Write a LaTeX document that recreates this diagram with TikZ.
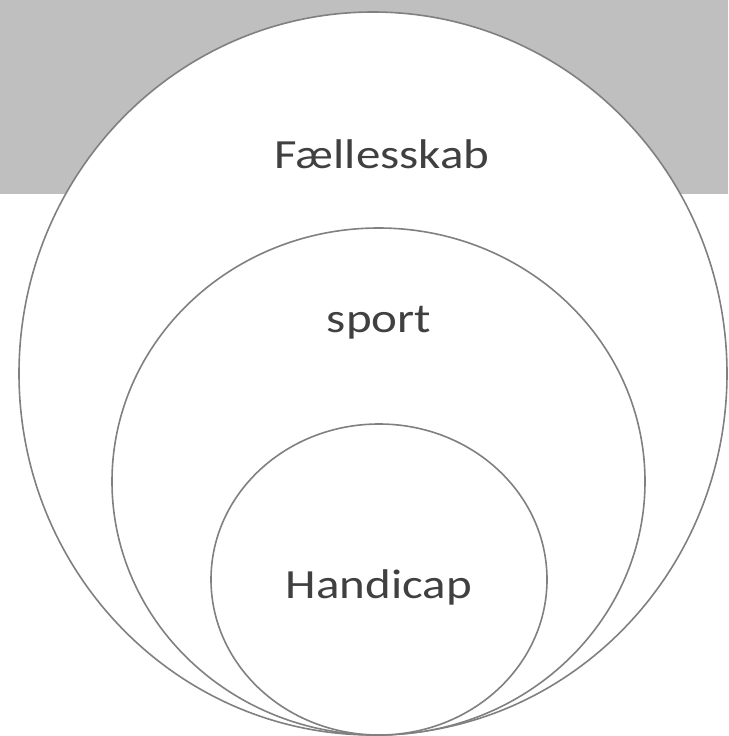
\documentclass[tikz,border=0pt]{standalone}
\usepackage{fontspec}
\setmainfont{Carlito}
\newfontfamily\lblfont[FakeStretch=1.18]{Carlito}
\definecolor{band}{HTML}{BFBFBF}
\definecolor{ring}{HTML}{808080}
\definecolor{txt}{HTML}{404040}
\begin{document}
\begin{tikzpicture}[x=1pt,y=-1pt,
  ringstyle/.style={draw=ring,line width=1.6pt,fill=white},
  lbl/.style={text=txt,font=\lblfont\fontsize{41.5}{48}\selectfont,anchor=base,inner sep=0pt}]
\useasboundingbox (0,0) rectangle (728,736);
\begin{scope}
\clip (0,0) rectangle (728,736);
\fill[band] (0,0) rectangle (728,194);
\draw[ringstyle] (373,373.5) ellipse [x radius=354,y radius=361.5];
\draw[ringstyle] (378.5,481.5) ellipse [x radius=266.5,y radius=253.5];
\draw[ringstyle] (379,579.5) ellipse [x radius=168,y radius=155.5];
\end{scope}
\node[lbl] (f) at (382,168) {Fællesskab};
\node[lbl] (s) at (379,332) {sport};
\node[lbl] (h) at (379,598) {Handicap};
\end{tikzpicture}
\end{document}
